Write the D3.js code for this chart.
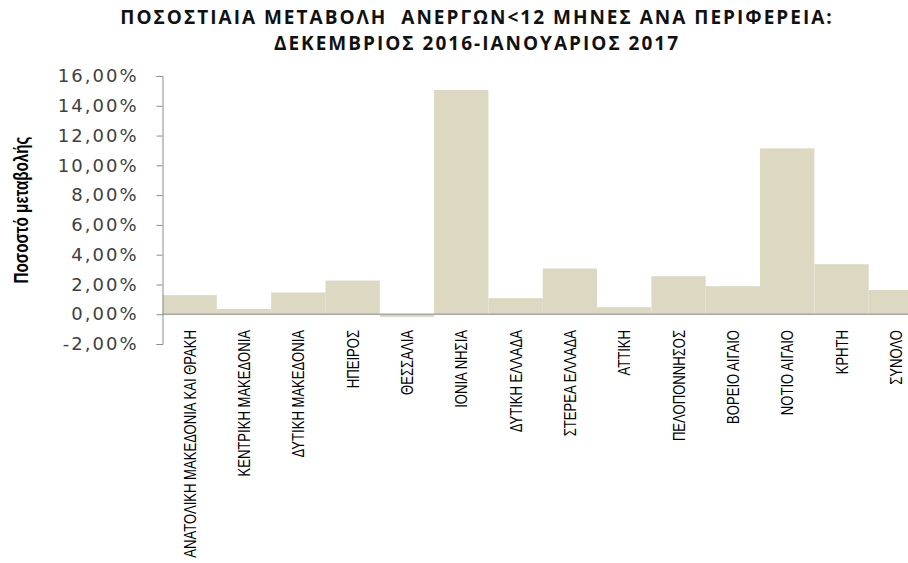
<!DOCTYPE html>
<html lang="el">
<head>
    <meta charset="UTF-8">
    <title>Ποσοστιαία μεταβολή ανέργων</title>
    <script src="https://d3js.org/d3.v7.min.js"></script>
    <style>
        body {
            margin: 0;
            padding: 0;
            background: #fff;
            overflow: hidden;
        }
        .title {
            font-family: "Open Sans", "Liberation Sans", sans-serif;
            font-weight: bold;
            font-size: 19px;
            letter-spacing: 2px;
            white-space: pre;
            fill: #111;
        }
        .y-tick text {
            font-family: "DejaVu Sans", Verdana, sans-serif;
            font-size: 18px;
            letter-spacing: 2px;
            fill: #404040;
        }
        .cat-label {
            font-family: "Liberation Sans", sans-serif;
            font-size: 17px;
            fill: #000;
        }
        .y-title {
            font-family: "Liberation Sans", sans-serif;
            font-weight: bold;
            font-size: 20px;
            fill: #000;
        }
    </style>
</head>
<body>
    <div id="chart"></div>

    <script>
        // categories (regions) and values in percent
        const regions = [
            "ΑΝΑΤΟΛΙΚΗ ΜΑΚΕΔΟΝΙΑ ΚΑΙ ΘΡΑΚΗ", "ΚΕΝΤΡΙΚΗ ΜΑΚΕΔΟΝΙΑ", "ΔΥΤΙΚΗ ΜΑΚΕΔΟΝΙΑ",
            "ΗΠΕΙΡΟΣ", "ΘΕΣΣΑΛΙΑ", "ΙΟΝΙΑ ΝΗΣΙΑ", "ΔΥΤΙΚΗ ΕΛΛΑΔΑ", "ΣΤΕΡΕΑ ΕΛΛΑΔΑ",
            "ΑΤΤΙΚΗ", "ΠΕΛΟΠΟΝΝΗΣΟΣ", "ΒΟΡΕΙΟ ΑΙΓΑΙΟ", "ΝΟΤΙΟ ΑΙΓΑΙΟ", "ΚΡΗΤΗ", "ΣΥΝΟΛΟ"
        ];
        const changePct = [1.28, 0.36, 1.46, 2.26, -0.18, 15.06, 1.08, 3.07, 0.47, 2.55, 1.88, 11.14, 3.36, 1.63];
        const yTicks = [-2, 0, 2, 4, 6, 8, 10, 12, 14, 16];

        const width = 908;
        const height = 563;
        // plot runs off the right edge like the original export
        const margin = { left: 162.5, right: -15, top: 76, bottom: 219 };

        const svg = d3.select("#chart").append("svg")
            .attr("width", width)
            .attr("height", height);

        const x = d3.scaleBand()
            .domain(regions)
            .range([margin.left, width - margin.right])
            .padding(0);

        const y = d3.scaleLinear()
            .domain([-2, 16])
            .range([height - margin.bottom, margin.top]);

        // title
        const title = svg.append("text")
            .attr("class", "title")
            .attr("text-anchor", "middle");
        title.append("tspan").attr("x", 477).attr("y", 24)
            .text("ΠΟΣΟΣΤΙΑΙΑ ΜΕΤΑΒΟΛΗ  ΑΝΕΡΓΩΝ<12 ΜΗΝΕΣ ΑΝΑ ΠΕΡΙΦΕΡΕΙΑ:");
        title.append("tspan").attr("x", 477).attr("y", 50)
            .text("ΔΕΚΕΜΒΡΙΟΣ 2016-ΙΑΝΟΥΑΡΙΟΣ 2017");

        // bars
        svg.selectAll("rect.bar")
            .data(changePct)
            .join("rect")
            .attr("class", "bar")
            .attr("x", (d, i) => x(regions[i]))
            .attr("width", x.bandwidth())
            .attr("y", d => y(Math.max(0, d)))
            .attr("height", d => Math.abs(y(d) - y(0)))
            .attr("fill", "#ddd8c2");

        // zero line
        svg.append("line")
            .attr("x1", margin.left)
            .attr("x2", width)
            .attr("y1", y(0))
            .attr("y2", y(0))
            .attr("stroke", "#a8a8a8")
            .attr("stroke-width", 1.5);

        // y axis
        const yAxis = d3.axisLeft(y)
            .tickValues(yTicks)
            .tickSize(6)
            .tickPadding(5)
            .tickFormat(d => (d < 0 ? "-" : "") + Math.abs(d).toFixed(2).replace(".", ",") + "%");

        const gy = svg.append("g")
            .attr("class", "y-tick")
            .attr("transform", `translate(${margin.left},0)`)
            .call(yAxis);
        gy.select(".domain").attr("stroke", "#8c8c8c");
        gy.selectAll(".tick line").attr("stroke", "#8c8c8c");
        gy.selectAll(".tick text").attr("x", -24);

        // category labels, rotated and squeezed to look condensed
        svg.selectAll("text.cat-label")
            .data(regions)
            .join("text")
            .attr("class", "cat-label")
            .attr("text-anchor", "end")
            .attr("transform", d => `translate(${x(d) + x.bandwidth() / 2 + 6},${y(-2) - 14}) rotate(-90) scale(0.77,1)`)
            .text(d => d);

        // y axis title
        svg.append("text")
            .attr("class", "y-title")
            .attr("text-anchor", "middle")
            .attr("transform", "translate(28,210) rotate(-90) scale(0.76,1)")
            .text("Ποσοστό μεταβολής");
    </script>
</body>
</html>
